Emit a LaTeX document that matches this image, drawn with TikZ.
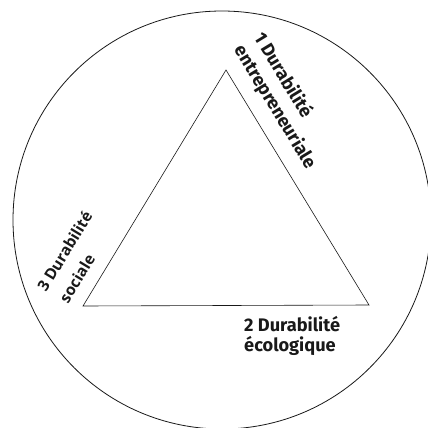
\documentclass[tikz,border=0pt]{standalone}
\usepackage{fontspec}
\setmainfont{Fira Sans}
\newfontfamily\labelfont{Fira Sans}
\newfontfamily\socialfont{Open Sans}

\tikzset{
    etiquette/.style={inner sep=0pt, anchor=base west, text=black!90,
        font=\labelfont\bfseries\fontsize{18.2}{22}\selectfont},
    sociale/.style={etiquette, font=\socialfont\bfseries\fontsize{15.5}{20}\selectfont},
    bord/.style={line width=0.6pt, draw=black!90}
}

\begin{document}
\begin{tikzpicture}[x=1pt, y=-1pt]
    % --- cadre ---
    \useasboundingbox (0,0) rectangle (428,428);
    \clip (0,0) rectangle (428,428);

    % --- cercle ---
    \draw[bord, line width=0.8pt] (222,220) circle (209pt);

    % --- triangle ---
    \coordinate (sommet) at (226,70);
    \coordinate (gauche) at (83,306);
    \coordinate (droite) at (369,305);
    \draw[bord] (sommet) -- (droite) -- (gauche) -- cycle;

    % --- 1 : le long du cote droit ---
    \node[etiquette, rotate=-58.7] (entre1) at (253.3,37.8) {1 Durabilité};
    \node[etiquette, rotate=-58.7] (entre2) at (233.5,49.7) {entrepreneuriale};

    % --- 2 : sous la base ---
    \node[etiquette] (eco1) at (244,331.5) {2 Durabilité};
    \node[etiquette] (eco2) at (244,351.5) {écologique};

    % --- 3 : le long du cote gauche ---
    \node[sociale, rotate=58.8] (soc1) at (46.1,293.1) {3 Durabilité};
    \node[sociale, rotate=58.8] (soc2) at (68.1,304.6) {sociale};
\end{tikzpicture}
\end{document}
